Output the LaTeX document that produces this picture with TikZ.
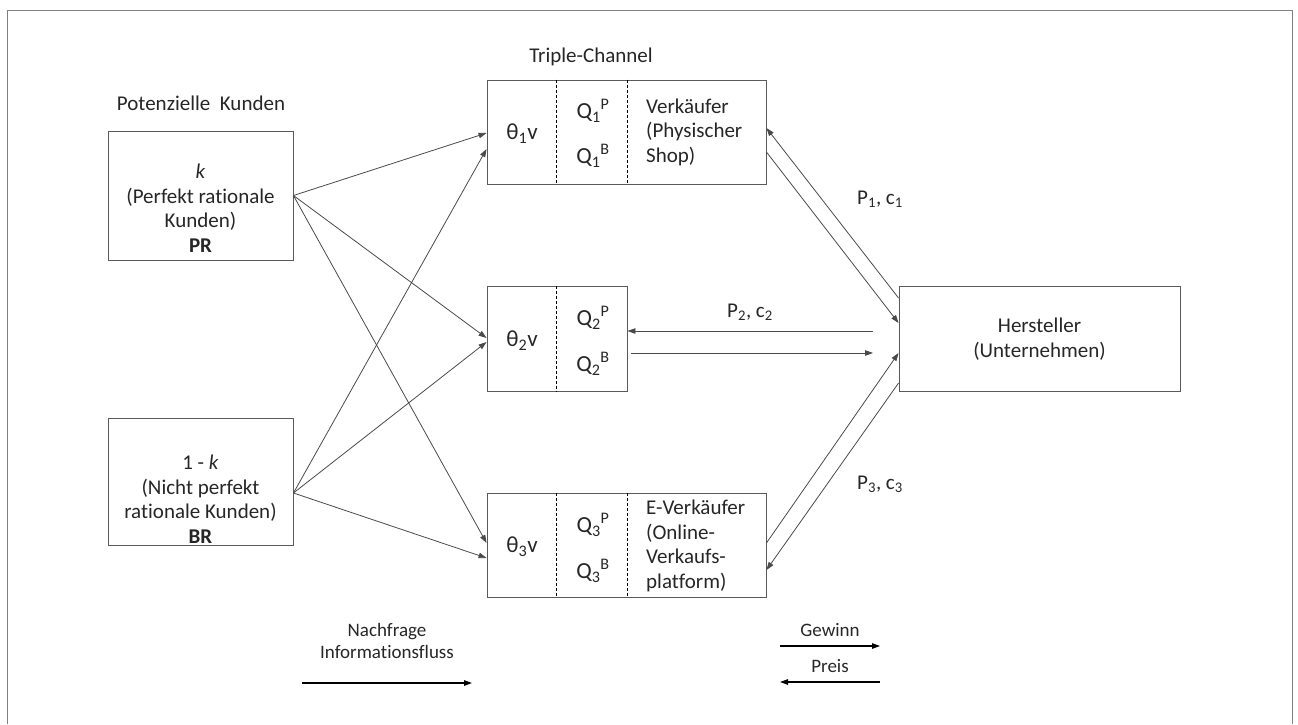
\documentclass[tikz,border=0pt]{standalone}
\usepackage{fontspec}
\setmainfont[Ligatures={NoCommon}]{Carlito}
\usetikzlibrary{arrows.meta}
\definecolor{ln}{HTML}{4A4A4A}
\definecolor{bx}{HTML}{5A5A5A}
\tikzset{
  box/.style={draw=bx, line width=0.9pt, rectangle, inner sep=0pt},
  txt/.style={font=\fontsize{21}{24.5}\selectfont, align=center, inner sep=0pt, text=black!85},
  btxt/.style={font=\fontsize{23}{26}\selectfont, align=center, inner sep=0pt, text=black!85},
  ltxt/.style={font=\fontsize{19}{22.5}\selectfont, align=center, inner sep=0pt, text=black!85},
  arr/.style={draw=ln, line width=0.8pt, -{Triangle[length=8pt,width=5.5pt]}},
  legarr/.style={draw=black, line width=1.2pt, -{Triangle[length=8pt,width=5.5pt]}},
  dsh/.style={draw=black, line width=0.6pt, dash pattern=on 3pt off 2pt}
}
\begin{document}
\begin{tikzpicture}[x=1pt,y=-1pt]
\useasboundingbox (0,0) rectangle (1298,724);
\draw[draw=gray, line width=1pt] (7,724) -- (7,10) -- (1292,10) -- (1292,724);

% titles
\node[txt] (tpk) at (201,103) {Potenzielle\ \ Kunden};
\node[txt] (ttc) at (591,57) {Triple-Channel};

% customer boxes
\node[box, minimum width=185pt, minimum height=129pt] (pr) at (200.5,195.5) {};
\node[txt] (prt) at (200.5,208) {\textit{k}\\(Perfekt rationale\\Kunden)\\\textbf{PR}};
\node[box, minimum width=185pt, minimum height=127pt] (br) at (200.5,481.5) {};
\node[txt] (brt) at (200.5,499) {1 - \textit{k}\\(Nicht perfekt\\rationale Kunden)\\\textbf{BR}};

% channel boxes
\node[box, minimum width=279pt, minimum height=104pt] (ch1) at (626.5,132) {};
\node[box, minimum width=140pt, minimum height=105pt] (ch2) at (557,338.5) {};
\node[box, minimum width=279pt, minimum height=104pt] (ch3) at (626.5,545) {};
\node[box, minimum width=281pt, minimum height=105pt] (her) at (1039.5,338.5) {};

\draw[dsh] ([xshift=70pt]ch1.north west) -- ([xshift=70pt]ch1.south west);
\draw[dsh] ([xshift=141pt]ch1.north west) -- ([xshift=141pt]ch1.south west);
\draw[dsh] ([xshift=70pt]ch2.north west) -- ([xshift=70pt]ch2.south west);
\draw[dsh] ([xshift=70pt]ch3.north west) -- ([xshift=70pt]ch3.south west);
\draw[dsh] ([xshift=141pt]ch3.north west) -- ([xshift=141pt]ch3.south west);

% channel texts
\node[btxt] (t1) at (522,134) {θ\textsubscript{1}v};
\node[btxt] (q1p) at (593,111) {Q\textsubscript{1}\textsuperscript{P}};
\node[btxt] (q1b) at (593,156) {Q\textsubscript{1}\textsuperscript{B}};
\node[txt, align=left, anchor=west] (v1) at (646,132) {Verkäufer\\(Physischer\\Shop)};

\node[btxt] (t2) at (522,341) {θ\textsubscript{2}v};
\node[btxt] (q2p) at (593,318) {Q\textsubscript{2}\textsuperscript{P}};
\node[btxt] (q2b) at (593,364) {Q\textsubscript{2}\textsuperscript{B}};

\node[btxt] (t3) at (522,547) {θ\textsubscript{3}v};
\node[btxt] (q3p) at (593,525) {Q\textsubscript{3}\textsuperscript{P}};
\node[btxt] (q3b) at (593,571) {Q\textsubscript{3}\textsuperscript{B}};
\node[txt, align=left, anchor=west] (v3) at (646,546) {E-Verkäufer\\(Online-\\Verkaufs-\\platform)};

\node[txt] (ht) at (1039.5,339) {Hersteller\\(Unternehmen)};

% left arrows
\draw[arr] (pr.east) -- ([yshift=-1pt]ch1.west);
\draw[arr] (pr.east) -- ([yshift=0.5pt]ch2.west);
\draw[arr] (pr.east) -- ([yshift=2pt]ch3.west);
\draw[arr] ([yshift=-11.5pt]br.east) -- ([yshift=-17pt]ch1.west);
\draw[arr] ([yshift=-11.5pt]br.east) -- ([yshift=-3.5pt]ch2.west);
\draw[arr] ([yshift=-11.5pt]br.east) -- ([yshift=-13pt]ch3.west);

% right arrows
\draw[arr] ([yshift=40.5pt]her.west) -- ([yshift=4pt]ch1.east);
\draw[arr] ([yshift=-20pt]ch1.east) -- ([yshift=15.5pt]her.west);
\coordinate (m1) at (873,331);
\coordinate (m2) at (873,353);
\draw[arr] (m1) -- ([yshift=7.5pt]ch2.east);
\draw[arr] ([xshift=4pt,yshift=-14.5pt]ch2.east) -- (m2);
\draw[arr] ([yshift=2pt]ch3.east) -- ([yshift=-14.5pt]her.west);
\draw[arr] ([yshift=-44.5pt]her.west) -- ([yshift=-25pt]ch3.east);

\node[txt] (l1) at (880,199) {P\textsubscript{1}, c\textsubscript{1}};
\node[txt] (l2) at (750,312) {P\textsubscript{2}, c\textsubscript{2}};
\node[txt] (l3) at (880,484) {P\textsubscript{3}, c\textsubscript{3}};

% legend
\node[ltxt] (nf) at (387,641) {Nachfrage\\Informationsfluss};
\coordinate (na) at (302,683);
\coordinate (nb) at (472,683);
\draw[legarr] (na) -- (nb);
\node[ltxt] (gw) at (830,630) {Gewinn};
\coordinate (ga) at (780,646);
\coordinate (gb) at (880,646);
\draw[legarr] (ga) -- (gb);
\node[ltxt] (pz) at (830,666) {Preis};
\coordinate (pa) at (880,682);
\coordinate (pb) at (780,682);
\draw[legarr] (pa) -- (pb);
\end{tikzpicture}
\end{document}
